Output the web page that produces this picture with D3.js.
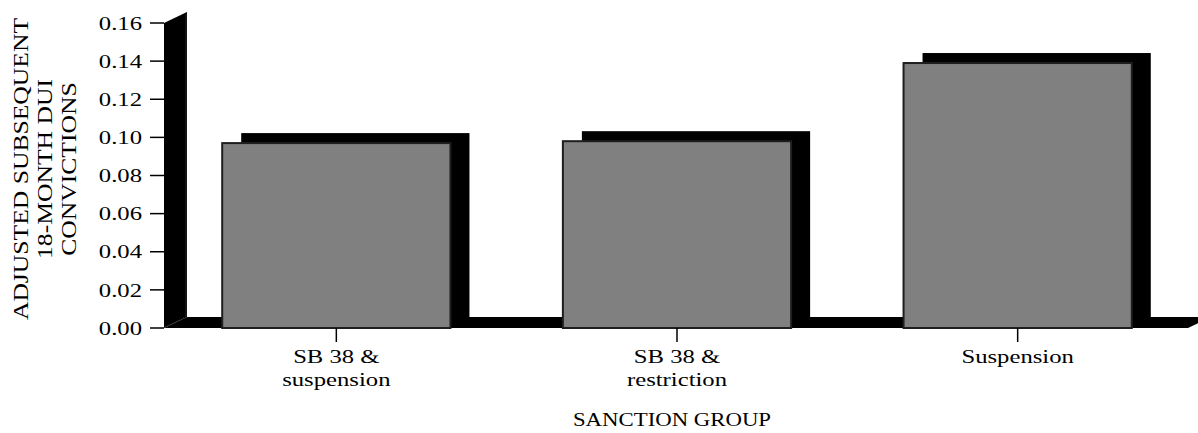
<!DOCTYPE html>
<html>
<head>
<meta charset="utf-8">
<script src="https://cdn.jsdelivr.net/npm/d3@7"></script>
<style>
  html, body { margin: 0; padding: 0; background: #fff; }
  svg { display: block; }
  text { font-family: "Liberation Serif", "Times New Roman", serif; fill: #000; }
</style>
</head>
<body>
<svg id="chart" width="1198" height="433"></svg>
<script>
// ---- data ----
const categories = [["SB 38 &", "suspension"], ["SB 38 &", "restriction"], ["Suspension"]];
const values = [0.097, 0.098, 0.139];
const yTicks = [0, 0.02, 0.04, 0.06, 0.08, 0.10, 0.12, 0.14, 0.16];
const yTitle = ["ADJUSTED SUBSEQUENT", "18-MONTH DUI", "CONVICTIONS"];
const xTitle = "SANCTION GROUP";

// ---- layout ----
const svg = d3.select("#chart");
const x0 = 164, x1 = 1188, yBottom = 328, yTop = 23;
const wallDX = 23, wallDY = 11;
const barDX = 19, barDY = 10;

const x = d3.scaleBand().domain(d3.range(categories.length)).range([166, 1188])
  .paddingInner(0.33).paddingOuter(0.165);
const y = d3.scaleLinear().domain([0, 0.16]).range([yBottom, yTop]);

// wall (3D left side)
svg.append("path")
  .attr("d", `M${x0},${y(0.16)} L${x0 + wallDX},${y(0.16) - wallDY} L${x0 + wallDX},${y(0) - wallDY} L${x0},${y(0)} Z`)
  .attr("fill", "#000");
svg.append("line")
  .attr("x1", x0 + wallDX - 1).attr("x2", x0 + wallDX - 1)
  .attr("y1", y(0.16) - wallDY + 2).attr("y2", y(0) - wallDY)
  .attr("stroke", "#444").attr("stroke-width", 0.6);

// floor
svg.append("path")
  .attr("d", `M${x0},${y(0)} L${x0 + wallDX},${y(0) - wallDY} L${x1 + wallDX},${y(0) - wallDY} L${x1},${y(0)} Z`)
  .attr("fill", "#000");
svg.append("line")
  .attr("x1", x0 + 1).attr("y1", y(0) - 1)
  .attr("x2", x0 + wallDX - 1).attr("y2", y(0) - wallDY)
  .attr("stroke", "#555").attr("stroke-width", 0.6).attr("stroke-dasharray", "1,1");

// bar shadows (back faces)
svg.append("g").selectAll("rect").data(values).join("rect")
  .attr("x", (d, i) => x(i) + barDX)
  .attr("y", d => y(d) - barDY)
  .attr("width", x.bandwidth())
  .attr("height", d => (y(0) - wallDY) - (y(d) - barDY))
  .attr("fill", "#000");

// front bars
svg.append("g").selectAll("rect").data(values).join("rect")
  .attr("x", (d, i) => x(i))
  .attr("y", d => y(d))
  .attr("width", x.bandwidth())
  .attr("height", d => y(0) - y(d))
  .attr("fill", "#808080")
  .attr("stroke", "#1e1e1e")
  .attr("stroke-width", 2);

// y axis ticks
const yg = svg.append("g");
yg.selectAll("line").data(yTicks).join("line")
  .attr("x1", 150).attr("x2", x0)
  .attr("y1", d => y(d)).attr("y2", d => y(d))
  .attr("stroke", "#000").attr("stroke-width", 1.5);
yg.selectAll("g.lab").data(yTicks).join("g").attr("class", "lab")
  .attr("transform", d => `translate(142,${y(d)}) scale(1.3,1)`)
  .append("text")
  .attr("text-anchor", "end").attr("dy", "0.35em")
  .attr("font-size", 19)
  .text(d => d3.format(".2f")(d));

// x axis ticks
const xg = svg.append("g");
xg.selectAll("line").data(categories).join("line")
  .attr("x1", (d, i) => x(i) + x.bandwidth() / 2)
  .attr("x2", (d, i) => x(i) + x.bandwidth() / 2)
  .attr("y1", yBottom).attr("y2", 342)
  .attr("stroke", "#000").attr("stroke-width", 1.5);
const xl = xg.selectAll("g.lab").data(categories).join("g").attr("class", "lab")
  .attr("transform", (d, i) => `translate(${x(i) + x.bandwidth() / 2},0) scale(1.3,1)`);
xl.selectAll("text").data(d => d).join("text")
  .attr("text-anchor", "middle")
  .attr("y", (d, j) => 363 + j * 23)
  .attr("font-size", 19)
  .text(d => d);

// x title
svg.append("g").attr("transform", `translate(672,426) scale(1.2,1)`)
  .append("text").attr("text-anchor", "middle").attr("font-size", 19).text(xTitle);

// y title
const yt = svg.append("g").attr("transform", "translate(0,169) rotate(-90)");
yt.selectAll("g").data(yTitle).join("g")
  .attr("transform", (d, i) => `translate(0,${28 + i * 24}) scale(1.28,1)`)
  .append("text").attr("text-anchor", "middle").attr("font-size", 20).text(d => d);
</script>
</body>
</html>
